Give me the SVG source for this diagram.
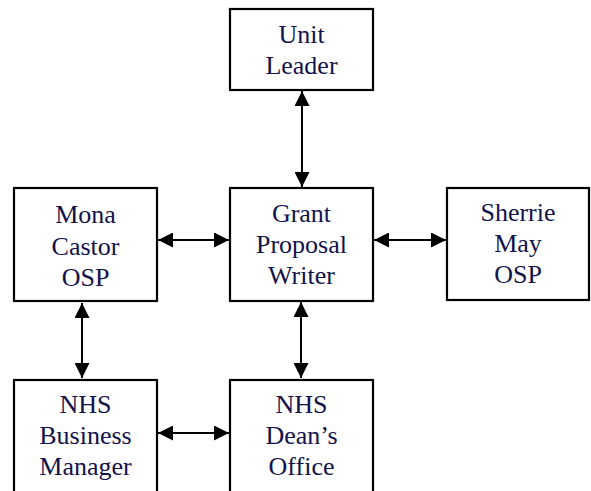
<svg xmlns="http://www.w3.org/2000/svg" width="591" height="491" viewBox="0 0 591 491">
<defs>
<style>
.box{fill:#fff;stroke:#000;stroke-width:2.2}
.t{font-size:26px;fill:#12124d;text-anchor:middle}
.c{stroke:#000;stroke-width:2;fill:none;marker-start:url(#a);marker-end:url(#a)}
</style>
<marker id="a" viewBox="0 0 15 15" refX="15" refY="7.5" markerWidth="15" markerHeight="15" markerUnits="userSpaceOnUse" orient="auto-start-reverse">
<path d="M0,0 L15,7.5 L0,15 Z" fill="#000"/>
</marker>
</defs>
<rect width="591" height="491" fill="#fff"/>
<g id="connectors">
<line class="c" x1="302" y1="91" x2="302" y2="187"/>
<line class="c" x1="158" y1="240" x2="229" y2="240"/>
<line class="c" x1="374" y1="240" x2="446" y2="240"/>
<line class="c" x1="82" y1="303" x2="82" y2="378"/>
<line class="c" x1="301" y1="302" x2="301" y2="378"/>
<line class="c" x1="158" y1="433" x2="229" y2="433"/>
</g>
<g font-family="'Liberation Serif', 'Times New Roman', 'DejaVu Serif', serif">
<g id="unit-leader">
<rect class="box" x="230" y="9" width="143" height="81"/>
<text class="t" x="301.5" y="43">Unit</text>
<text class="t" x="301.5" y="74">Leader</text>
</g>
<g id="grant-writer">
<rect class="box" x="230" y="188" width="143" height="113"/>
<text class="t" x="301.5" y="222">Grant</text>
<text class="t" x="301.5" y="253">Proposal</text>
<text class="t" x="301.5" y="284">Writer</text>
</g>
<g id="mona-castor">
<rect class="box" x="14" y="188" width="143" height="113"/>
<text class="t" x="85.5" y="223">Mona</text>
<text class="t" x="85.5" y="254.5">Castor</text>
<text class="t" x="85.5" y="286">OSP</text>
</g>
<g id="sherrie-may">
<rect class="box" x="447" y="188" width="142" height="112"/>
<text class="t" x="518" y="221">Sherrie</text>
<text class="t" x="518" y="252">May</text>
<text class="t" x="518" y="283">OSP</text>
</g>
<g id="nhs-business">
<rect class="box" x="14" y="380" width="143" height="130"/>
<text class="t" x="85.5" y="413">NHS</text>
<text class="t" x="85.5" y="444">Business</text>
<text class="t" x="85.5" y="475">Manager</text>
</g>
<g id="nhs-dean">
<rect class="box" x="230" y="380" width="143" height="130"/>
<text class="t" x="301.5" y="413">NHS</text>
<text class="t" x="301.5" y="444">Dean’s</text>
<text class="t" x="301.5" y="475">Office</text>
</g>
</g>
</svg>
